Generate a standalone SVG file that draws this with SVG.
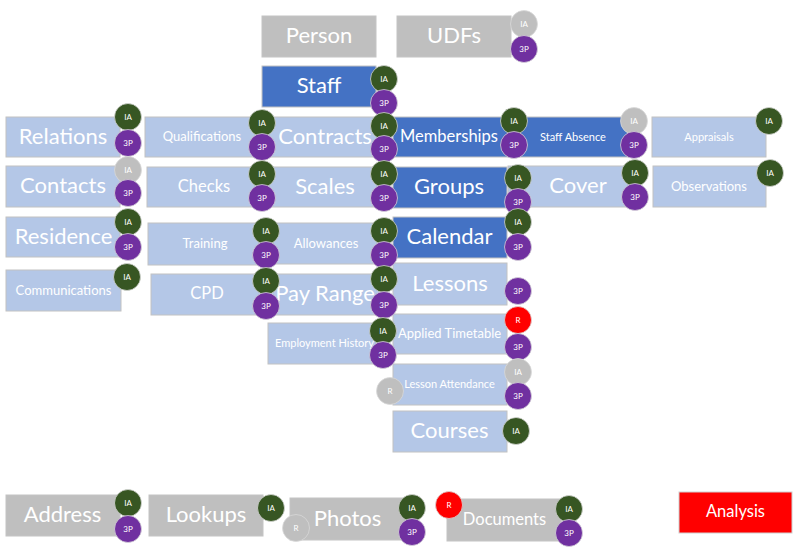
<svg xmlns="http://www.w3.org/2000/svg" width="800" height="553" viewBox="0 0 800 553">
<style>
rect.gray{fill:#BFBFBF;stroke:#C4C4C4;stroke-width:1}
rect.lb{fill:#B4C7E7;stroke:#C2C2C2;stroke-width:1}
rect.db{fill:#4472C4;stroke:#C2C2C2;stroke-width:1}
rect.red{fill:#FF0000;stroke:#D0D0D0;stroke-width:1}
text{font-family:Lato,"Open Sans",sans-serif;fill:#FFFFFF;text-anchor:middle;dominant-baseline:central}
.L{font-size:22px}
.M{font-size:16.5px}
.S{font-size:13px}
.XS{font-size:11px}
circle{stroke:#D9D9D9;stroke-width:0.75}
.ia{fill:#375623}
.tp{fill:#7030A0}
.r{fill:#FF0000}
.g{fill:#BFBFBF}
.b{font-size:8px}
</style>
<g id="connectors"/>
<g id="analysis"><rect class="red" x="679" y="492" width="113" height="41"/><text class="M" x="735.5" y="511">Analysis</text></g>
<g id="appraisals"><rect class="lb" x="652" y="117" width="114" height="40"/><text class="XS" x="709" y="136">Appraisals</text>
<circle class="ia" cx="769" cy="121" r="13.5"/><text class="b" x="769" y="120.5">IA</text></g>
<g id="observations"><rect class="lb" x="653" y="166" width="113" height="41"/><text class="S" x="709" y="185.5">Observations</text>
<circle class="ia" cx="770" cy="173" r="13.5"/><text class="b" x="770" y="172.5">IA</text></g>
<g id="staff-absence"><rect class="db" x="510" y="117" width="122" height="40"/><text class="XS" x="573" y="136">Staff Absence</text>
<circle class="g" cx="634" cy="121" r="13.5"/><text class="b" x="634" y="120.5">IA</text>
<circle class="tp" cx="634" cy="145" r="13.5"/><text class="b" x="634" y="144.5">3P</text></g>
<g id="cover"><rect class="lb" x="508" y="166" width="122" height="41"/><text class="L" x="578" y="184.5">Cover</text>
<circle class="ia" cx="635" cy="173" r="13.5"/><text class="b" x="635" y="172.5">IA</text>
<circle class="tp" cx="635" cy="197" r="13.5"/><text class="b" x="635" y="196.5">3P</text></g>
<g id="documents"><rect class="gray" x="447" y="499" width="114" height="42"/><text class="M" x="504.5" y="518.5">Documents</text>
<circle class="r" cx="449" cy="505" r="13.5"/><text class="b" x="449" y="504.5">R</text>
<circle class="ia" cx="569" cy="509" r="13.5"/><text class="b" x="569" y="508.5">IA</text>
<circle class="tp" cx="569" cy="533" r="13.5"/><text class="b" x="569" y="532.5">3P</text></g>
<g id="udfs"><rect class="gray" x="397" y="16" width="114" height="41"/><text class="L" x="454" y="34.5">UDFs</text>
<circle class="g" cx="524" cy="24" r="13.5"/><text class="b" x="524" y="23.5">IA</text>
<circle class="tp" cx="524" cy="49" r="13.5"/><text class="b" x="524" y="48.5">3P</text></g>
<g id="memberships"><rect class="db" x="393" y="117" width="117" height="40"/><text class="M" x="449" y="135.5">Memberships</text>
<circle class="ia" cx="514" cy="121" r="13.5"/><text class="b" x="514" y="120.5">IA</text>
<circle class="tp" cx="514" cy="145" r="13.5"/><text class="b" x="514" y="144.5">3P</text></g>
<g id="groups"><rect class="db" x="393" y="167" width="114" height="41"/><text class="L" x="449" y="185.5">Groups</text>
<circle class="ia" cx="518" cy="178" r="13.5"/><text class="b" x="518" y="177.5">IA</text>
<circle class="tp" cx="518" cy="202" r="13.5"/><text class="b" x="518" y="201.5">3P</text></g>
<g id="calendar"><rect class="db" x="393" y="217" width="114" height="41"/><text class="L" x="449.5" y="235.5">Calendar</text>
<circle class="ia" cx="518" cy="222" r="13.5"/><text class="b" x="518" y="221.5">IA</text>
<circle class="tp" cx="518" cy="247" r="13.5"/><text class="b" x="518" y="246.5">3P</text></g>
<g id="lessons"><rect class="lb" x="393" y="263" width="114" height="42"/><text class="L" x="450" y="282">Lessons</text>
<circle class="tp" cx="518" cy="291" r="13.5"/><text class="b" x="518" y="290.5">3P</text></g>
<g id="applied-timetable"><rect class="lb" x="393" y="314" width="114" height="40"/><text class="S" x="449.5" y="333">Applied Timetable</text>
<circle class="r" cx="518" cy="320" r="13.5"/><text class="b" x="518" y="319.5">R</text>
<circle class="tp" cx="518" cy="347" r="13.5"/><text class="b" x="518" y="346.5">3P</text></g>
<g id="lesson-attendance"><rect class="lb" x="393" y="364" width="114" height="41"/><text class="XS" x="449.5" y="383.5">Lesson Attendance</text>
<circle class="g" cx="518" cy="372" r="13.5"/><text class="b" x="518" y="371.5">IA</text>
<circle class="tp" cx="518" cy="396" r="13.5"/><text class="b" x="518" y="395.5">3P</text>
<circle class="g" cx="390" cy="391" r="13.5"/><text class="b" x="390" y="390.5">R</text></g>
<g id="courses"><rect class="lb" x="393" y="411" width="114" height="41"/><text class="L" x="449.5" y="429.5">Courses</text>
<circle class="ia" cx="516" cy="431" r="13.5"/><text class="b" x="516" y="430.5">IA</text></g>
<g id="photos"><rect class="gray" x="290" y="498" width="115" height="42"/><text class="L" x="347.5" y="517">Photos</text>
<circle class="g" cx="296" cy="528" r="13.5"/><text class="b" x="296" y="527.5">R</text>
<circle class="ia" cx="412" cy="508" r="13.5"/><text class="b" x="412" y="507.5">IA</text>
<circle class="tp" cx="412" cy="532" r="13.5"/><text class="b" x="412" y="531.5">3P</text></g>
<g id="person"><rect class="gray" x="262" y="16" width="114" height="41"/><text class="L" x="319" y="34.5">Person</text></g>
<g id="staff"><rect class="db" x="262" y="66" width="114" height="41"/><text class="L" x="319" y="84.5">Staff</text>
<circle class="ia" cx="384" cy="79" r="13.5"/><text class="b" x="384" y="78.5">IA</text>
<circle class="tp" cx="384" cy="103" r="13.5"/><text class="b" x="384" y="102.5">3P</text></g>
<g id="contracts"><rect class="lb" x="262" y="117" width="122" height="40"/><text class="L" x="325" y="135">Contracts</text>
<circle class="ia" cx="384" cy="126" r="13.5"/><text class="b" x="384" y="125.5">IA</text>
<circle class="tp" cx="384" cy="149" r="13.5"/><text class="b" x="384" y="148.5">3P</text></g>
<g id="scales"><rect class="lb" x="262" y="167" width="122" height="40"/><text class="L" x="325" y="185">Scales</text>
<circle class="ia" cx="384" cy="174" r="13.5"/><text class="b" x="384" y="173.5">IA</text>
<circle class="tp" cx="384" cy="198" r="13.5"/><text class="b" x="384" y="197.5">3P</text></g>
<g id="allowances"><rect class="lb" x="266" y="223" width="118" height="41"/><text class="S" x="326" y="242.5">Allowances</text>
<circle class="ia" cx="384" cy="231" r="13.5"/><text class="b" x="384" y="230.5">IA</text>
<circle class="tp" cx="384" cy="255" r="13.5"/><text class="b" x="384" y="254.5">3P</text></g>
<g id="pay-range"><rect class="lb" x="266" y="274" width="118" height="41"/><text class="L" x="325" y="292.5">Pay Range</text>
<circle class="ia" cx="384" cy="279" r="13.5"/><text class="b" x="384" y="278.5">IA</text>
<circle class="tp" cx="384" cy="305" r="13.5"/><text class="b" x="384" y="304.5">3P</text></g>
<g id="employment-history"><rect class="lb" x="268" y="323" width="115" height="41"/><text class="XS" x="324.5" y="342.5">Employment History</text>
<circle class="ia" cx="383" cy="331" r="13.5"/><text class="b" x="383" y="330.5">IA</text>
<circle class="tp" cx="383" cy="355" r="13.5"/><text class="b" x="383" y="354.5">3P</text></g>
<g id="lookups"><rect class="gray" x="149" y="495" width="114" height="41"/><text class="L" x="206" y="513.5">Lookups</text>
<circle class="ia" cx="271" cy="508" r="13.5"/><text class="b" x="271" y="507.5">IA</text></g>
<g id="qualifications"><rect class="lb" x="145" y="117" width="117" height="40"/><text class="S" x="202" y="136">Qualifications</text>
<circle class="ia" cx="262" cy="123" r="13.5"/><text class="b" x="262" y="122.5">IA</text>
<circle class="tp" cx="262" cy="147" r="13.5"/><text class="b" x="262" y="146.5">3P</text></g>
<g id="checks"><rect class="lb" x="147" y="167" width="115" height="40"/><text class="M" x="204" y="185.5">Checks</text>
<circle class="ia" cx="262" cy="174" r="13.5"/><text class="b" x="262" y="173.5">IA</text>
<circle class="tp" cx="262" cy="198" r="13.5"/><text class="b" x="262" y="197.5">3P</text></g>
<g id="training"><rect class="lb" x="148" y="223" width="118" height="42"/><text class="S" x="205" y="243">Training</text>
<circle class="ia" cx="266" cy="231" r="13.5"/><text class="b" x="266" y="230.5">IA</text>
<circle class="tp" cx="266" cy="255" r="13.5"/><text class="b" x="266" y="254.5">3P</text></g>
<g id="cpd"><rect class="lb" x="151" y="274" width="115" height="41"/><text class="M" x="207" y="293">CPD</text>
<circle class="ia" cx="266" cy="281" r="13.5"/><text class="b" x="266" y="280.5">IA</text>
<circle class="tp" cx="266" cy="306" r="13.5"/><text class="b" x="266" y="305.5">3P</text></g>
<g id="relations"><rect class="lb" x="6" y="117" width="114" height="40"/><text class="L" x="63" y="135">Relations</text>
<circle class="ia" cx="128" cy="117" r="13.5"/><text class="b" x="128" y="116.5">IA</text>
<circle class="tp" cx="128" cy="143" r="13.5"/><text class="b" x="128" y="142.5">3P</text></g>
<g id="contacts"><rect class="lb" x="6" y="166" width="114" height="41"/><text class="L" x="63" y="184.5">Contacts</text>
<circle class="g" cx="128" cy="170" r="13.5"/><text class="b" x="128" y="169.5">IA</text>
<circle class="tp" cx="128" cy="193" r="13.5"/><text class="b" x="128" y="192.5">3P</text></g>
<g id="residence"><rect class="lb" x="6" y="217" width="114" height="40"/><text class="L" x="63.5" y="235">Residence</text>
<circle class="ia" cx="128" cy="222" r="13.5"/><text class="b" x="128" y="221.5">IA</text>
<circle class="tp" cx="128" cy="247" r="13.5"/><text class="b" x="128" y="246.5">3P</text></g>
<g id="communications"><rect class="lb" x="6" y="270" width="115" height="41"/><text class="S" x="63.5" y="289.5">Communications</text>
<circle class="ia" cx="127" cy="277" r="13.5"/><text class="b" x="127" y="276.5">IA</text></g>
<g id="address"><rect class="gray" x="6" y="495" width="114" height="41"/><text class="L" x="62.5" y="513.5">Address</text>
<circle class="ia" cx="128" cy="503" r="13.5"/><text class="b" x="128" y="502.5">IA</text>
<circle class="tp" cx="128" cy="529" r="13.5"/><text class="b" x="128" y="528.5">3P</text></g>
</svg>
